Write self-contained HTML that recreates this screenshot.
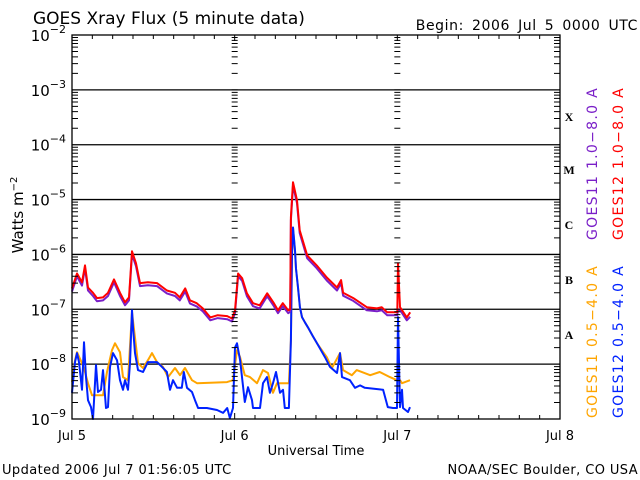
<!DOCTYPE html>
<html><head><meta charset="utf-8"><style>
body{margin:0;background:#fff;}
svg{display:block;font-family:"DejaVu Sans","Liberation Sans",sans-serif;}
</style></head><body>
<svg id="chart" width="640" height="480" viewBox="0 0 640 480" xmlns="http://www.w3.org/2000/svg">
<rect width="640" height="480" fill="#fff"/>
<text x="33" y="24" font-size="17" fill="#000">GOES Xray Flux (5 minute data)</text>
<text x="638" y="30" font-size="14" fill="#000" text-anchor="end" letter-spacing="0.6" word-spacing="3">Begin:  2006 Jul 5 0000 UTC</text>
<text transform="translate(23,215) rotate(-90)" font-size="15" text-anchor="middle" fill="#000">Watts m<tspan font-size="10" dy="-6">−2</tspan></text>
<text x="316" y="455" font-size="13" text-anchor="middle" fill="#000">Universal Time</text>
<text x="2" y="474" font-size="13" fill="#000" letter-spacing="0.4">Updated 2006 Jul  7 01:56:05 UTC</text>
<text x="638" y="474" font-size="13" text-anchor="end" fill="#000" letter-spacing="0.4">NOAA/SEC Boulder, CO USA</text>
<g id="grid"></g><g id="series"></g><g id="axes"></g>
<g font-family="Liberation Serif,serif" font-weight="bold" font-size="12" fill="#000">
<text x="569" y="121" text-anchor="middle">X</text>
<text x="569" y="174" text-anchor="middle">M</text>
<text x="569" y="229" text-anchor="middle">C</text>
<text x="569" y="284" text-anchor="middle">B</text>
<text x="569" y="339" text-anchor="middle">A</text>
</g>
<g font-size="14" letter-spacing="1.3">
<text transform="translate(597,240) rotate(-90)" fill="#7a1fc8">GOES11 1.0−8.0 A</text>
<text transform="translate(623,240) rotate(-90)" fill="#ff0000">GOES12 1.0−8.0 A</text>
<text transform="translate(597,418) rotate(-90)" fill="#ffa500">GOES11 0.5−4.0 A</text>
<text transform="translate(623,418) rotate(-90)" fill="#0022ff">GOES12 0.5−4.0 A</text>
</g>
</svg>
<script>
const dayLabels=["Jul 5","Jul 6","Jul 7","Jul 8"];
const decadeLabels=["-9","-8","-7","-6","-5","-4","-3","-2"];
const red_t=[0,0.74,1.48,1.92,2.36,3.1,3.69,4.57,5.31,6.2,7.08,7.82,8.41,8.85,9.44,10.03,11.2,12.54,14.0,15.2,15.9,16.7,17.4,18.4,19.3,20.4,21.5,22.9,23.6,24.05,24.5,25.1,25.8,26.7,27.7,28.8,29.7,30.4,31.1,31.9,32.2,32.3,32.6,33.2,33.6,34.7,36.1,37.6,39.1,39.7,40.0,41.5,43.5,45.0,45.7,46.5,47.7,48.0,48.1,48.4,48.7,49.4,49.9];
const red_v=[2.4e-7,4.5e-7,3.1e-7,6.3e-7,2.5e-7,2.0e-7,1.6e-7,1.65e-7,2.0e-7,3.5e-7,2.0e-7,1.34e-7,1.65e-7,1.14e-6,6.9e-7,3.0e-7,3.1e-7,3.0e-7,2.2e-7,2.0e-7,1.65e-7,2.4e-7,1.46e-7,1.29e-7,1.04e-7,7.1e-8,7.8e-8,7.5e-8,6.8e-8,9.6e-8,4.5e-7,3.7e-7,1.96e-7,1.29e-7,1.18e-7,1.96e-7,1.34e-7,9.6e-8,1.29e-7,9.6e-8,1.0e-7,4.75e-6,2.07e-5,9.7e-6,2.75e-6,9.6e-7,6.3e-7,3.8e-7,2.5e-7,3.4e-7,2.0e-7,1.6e-7,1.09e-7,1.04e-7,1.09e-7,8.8e-8,8.8e-8,8.8e-8,6.9e-7,1.09e-7,9.6e-8,7.1e-8,8.8e-8];
const purple_v=[2.1e-7,4.0e-7,2.7e-7,5.6e-7,2.2e-7,1.75e-7,1.4e-7,1.45e-7,1.75e-7,3.1e-7,1.75e-7,1.18e-7,1.45e-7,1.0e-6,6.1e-7,2.65e-7,2.75e-7,2.65e-7,1.95e-7,1.75e-7,1.45e-7,2.1e-7,1.28e-7,1.13e-7,9.2e-8,6.3e-8,6.9e-8,6.6e-8,6.0e-8,8.5e-8,4.0e-7,3.3e-7,1.73e-7,1.14e-7,1.04e-7,1.73e-7,1.18e-7,8.5e-8,1.14e-7,8.5e-8,9.0e-8,4.2e-6,1.8e-5,8.6e-6,2.45e-6,8.5e-7,5.6e-7,3.35e-7,2.2e-7,3.0e-7,1.77e-7,1.42e-7,9.6e-8,9.2e-8,9.6e-8,7.8e-8,7.8e-8,7.8e-8,1.0e-7,9.6e-8,8.5e-8,6.3e-8,7.3e-8];
const blue_t=[0,0.44,0.74,1.03,1.48,1.77,2.07,2.36,2.8,3.1,3.54,3.84,4.28,4.57,5.02,5.31,5.61,6.05,6.64,7.08,7.52,7.82,8.26,8.56,8.85,9.0,9.29,9.74,10.48,11.2,12.54,13.28,14.0,14.46,14.9,15.5,16.2,16.5,16.97,17.7,18.15,18.6,19.9,21.4,22.3,22.9,23.3,23.75,24.05,24.34,24.8,25.5,25.96,26.56,26.7,27.74,28.18,28.77,29.2,29.65,30.1,30.69,31.13,31.4,32.0,32.3,32.46,32.6,32.9,33.05,33.34,33.63,33.93,34.36,34.8,35.5,36.15,37.33,38.06,39.1,39.54,39.83,41.0,41.75,42.5,43.2,45.9,46.6,47.36,47.95,48.1,48.4,48.69,48.83,49.57,49.87];
const blue_v=[3.0e-9,1.09e-8,1.59e-8,1.09e-8,3.4e-9,2.5e-8,5.8e-9,2.2e-9,1.65e-9,1.0e-9,9.6e-9,3.1e-9,3.4e-9,7.8e-9,1.59e-9,1.65e-9,8.9e-9,1.59e-8,1.18e-8,5.1e-9,3.4e-9,5.1e-9,3.4e-9,1.04e-8,9.6e-8,4.7e-8,1.59e-8,7.8e-9,7.2e-9,1.09e-8,1.09e-8,8.9e-9,7.2e-9,3.4e-9,5.1e-9,3.7e-9,3.7e-9,7.2e-9,3.7e-9,3.1e-9,2.2e-9,1.59e-9,1.59e-9,1.46e-9,1.29e-9,1.59e-9,1.04e-9,1.59e-9,2.0e-8,2.4e-8,1.18e-8,2.04e-9,3.8e-9,2.2e-9,1.59e-9,1.59e-9,4.5e-9,5.8e-9,3.0e-9,4.5e-9,7.2e-9,3.0e-9,3.4e-9,1.59e-9,1.59e-9,2.7e-8,1.04e-6,3.1e-6,1.18e-6,5.5e-7,2.5e-7,1.1e-7,7.2e-8,5.8e-8,4.7e-8,3.3e-8,2.4e-8,1.34e-8,8.9e-9,6.9e-9,1.59e-8,5.8e-9,5.1e-9,3.7e-9,4.1e-9,3.7e-9,3.4e-9,1.65e-9,1.59e-9,1.59e-9,7.2e-8,1.65e-9,3.4e-9,1.59e-9,1.34e-9,1.65e-9];
const orange_t=[0,0.44,0.74,1.48,1.92,2.36,2.95,4.57,5.16,5.9,6.34,7.08,7.52,8.26,8.85,9.74,10.48,11.2,11.8,12.54,13.43,14.16,15.2,15.93,16.67,17.7,18.44,22.87,23.75,24.34,24.8,25.5,26.26,27.3,28.18,28.92,29.65,30.24,31.13,32.0,32.3,32.46,32.6,32.9,33.05,33.34,33.63,33.93,34.36,34.8,35.5,36.15,37.6,38.35,39.54,40.0,41.3,42.0,44.0,45.4,46.9,47.95,48.1,48.69,49.87];
const orange_v=[4.7e-9,1.18e-8,1.65e-8,1.04e-8,7.2e-9,4.5e-9,2.7e-9,2.7e-9,7.2e-9,1.8e-8,2.4e-8,1.65e-8,5.8e-9,5.1e-9,8.9e-8,1.04e-8,8.5e-9,1.18e-8,1.59e-8,1.09e-8,8.9e-9,5.8e-9,8.5e-9,6.3e-9,8.5e-9,5.1e-9,4.5e-9,4.7e-9,5.1e-9,1.8e-8,1.34e-8,6.3e-9,5.8e-9,4.5e-9,7.8e-9,6.9e-9,3.0e-9,4.5e-9,4.5e-9,4.5e-9,2.7e-8,1.04e-6,3.1e-6,1.18e-6,5.5e-7,2.5e-7,1.1e-7,7.2e-8,5.8e-8,4.7e-8,3.3e-8,2.4e-8,1.34e-8,8.5e-9,1.59e-8,7.8e-9,6.3e-9,7.8e-9,6.3e-9,7.2e-9,5.8e-9,5.1e-9,5.8e-9,4.5e-9,5.1e-9];

const L=72,R=560,T=35,B=419;
const X=h=>L+(R-L)*h/72;
const Y=v=>B-(B-T)*(Math.log10(v)+9)/7;
const NS="http://www.w3.org/2000/svg";
function mk(tag,attrs,parent){const e=document.createElementNS(NS,tag);for(const k in attrs)e.setAttribute(k,attrs[k]);parent.appendChild(e);return e;}
const grid=document.getElementById('grid'),axes=document.getElementById('axes'),ser=document.getElementById('series');
for(let d=1;d<7;d++){
  const e=mk('line',{x1:L,x2:R,y1:Y(Math.pow(10,d-9)),y2:Y(Math.pow(10,d-9)),stroke:'#000','stroke-width':1.3},grid);
  
  
}
const fr=mk('rect',{x:L,y:T,width:R-L,height:B-T,fill:'none',stroke:'#000','stroke-width':1.3},axes);


const tickXs=[[L,1],[X(24),0],[X(48),0],[R,-1]];
let tp='';
for(let d=0;d<7;d++){for(let m=2;m<=9;m++){const y=Y(m*Math.pow(10,d-9));
  for(const [x,dir] of tickXs){ if(dir===1) tp+=`M${x} ${y}h6`; else if(dir===-1) tp+=`M${x} ${y}h-6`; else tp+=`M${x-3} ${y}h6`; }}}
for(let d=0;d<=7;d++){const y=Y(Math.pow(10,d-9));for(const [x,dir] of tickXs){ if(dir===0) tp+=`M${x-3} ${y}h6`; }}
for(let h=3;h<72;h+=3){const x=X(h);tp+=`M${x} ${T}v4M${x} ${B}v-4`;}
for(const h of [24,48]){tp+=`M${X(h)} ${T}v6M${X(h)} ${B}v-6`;}
const tk=mk('path',{d:tp,stroke:'#000','stroke-width':1,fill:'none'},axes);


decadeLabels.forEach((s,i)=>{
  const y=Y(Math.pow(10,i-9));
  const t=mk('text',{x:66,y:y+6,'font-size':15,'text-anchor':'end',fill:'#000'},axes);
  
  
  t.innerHTML='10<tspan font-size="11" dy="-8">'+s.replace('-','−')+'</tspan>';
});
dayLabels.forEach((s,i)=>{
  const t=mk('text',{x:X(i*24),y:440,'font-size':13,'text-anchor':'middle',fill:'#000'},axes);
  
  
  t.textContent=s;
});
function line(ts,vs,color,name){
  const d=ts.map((t,i)=>(i?'L':'M')+X(t).toFixed(1)+' '+Math.min(B,Math.max(T,Y(vs[i]))).toFixed(1)).join('');
  const p=mk('path',{d:d,stroke:color,'stroke-width':2,fill:'none','stroke-linejoin':'round'},ser);
  
  
}
line(orange_t,orange_v,'#ffa500','series-goes11-short');
line(blue_t,blue_v,'#0022ff','series-goes12-short');
line(red_t,purple_v,'#7a1fc8','series-goes11-long');
line(red_t,red_v,'#ff0000','series-goes12-long');
</script>
</body></html>
